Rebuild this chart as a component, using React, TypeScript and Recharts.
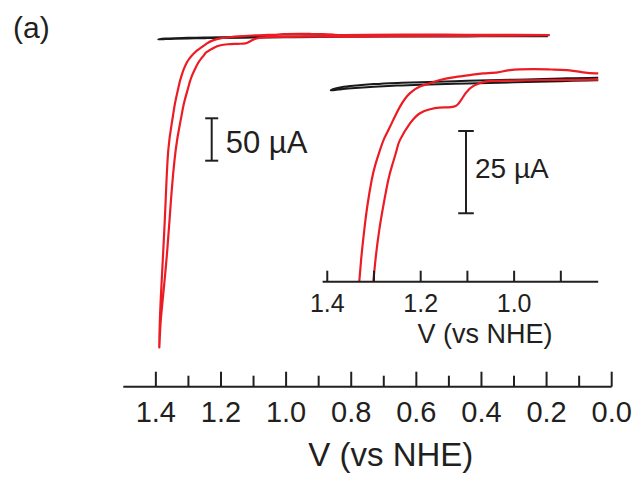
import React from "react";
import { LineChart, Line, XAxis, YAxis, ReferenceLine } from "recharts";

const FONT = '"Liberation Sans", Arial, Helvetica, sans-serif';
const INK = "#231f20";
const RED = "#ed1c24";

// Blank electrode scan: potential (V vs NHE) and current (µA, anodic positive)
const BLANK_V = [
  0.196, 0.4, 0.6, 0.823, 0.9, 1.0, 1.1, 1.2, 1.25, 1.3, 1.34, 1.37, 1.3925,
  1.37, 1.34, 1.3, 1.25, 1.2, 1.1, 1.0, 0.9, 0.823, 0.6, 0.4, 0.196,
];
const BLANK_I = [
  -0.9, -0.7, -0.5, -0.2, 0.05, 0.4, 0.75, 1.15, 1.4, 1.75, 2.1, 2.5, 2.8,
  1.9, 1.4, 0.95, 0.6, 0.35, -0.05, -0.4, -0.75, -1.0, -1.3, -1.5, -1.6,
];

// Catalyst scan: forward sweep then return sweep
const CAT_V = [
  0.19, 0.3, 0.45, 0.6, 0.72, 0.823, 0.94, 1.0, 1.04, 1.062, 1.076, 1.087, 1.1015,
  1.1158, 1.125, 1.14, 1.16, 1.18, 1.2015, 1.2229, 1.2443, 1.2514, 1.2608, 1.2694,
  1.2797, 1.2887, 1.2957, 1.3015, 1.3135, 1.3237, 1.3391, 1.3535, 1.3649, 1.379,
  1.386, 1.3894,
  1.3885, 1.3851, 1.3771, 1.3698, 1.3618, 1.3495, 1.3412, 1.3315, 1.3266, 1.3208,
  1.3139, 1.3049, 1.2972, 1.2872, 1.2775, 1.2657, 1.2443, 1.2229, 1.2015, 1.1801,
  1.1587, 1.1302, 1.0945, 1.066, 1.035, 1.009, 0.9595, 0.92, 0.8874, 0.8518,
  0.8231, 0.75, 0.6, 0.45, 0.3, 0.19,
];
const CAT_I = [
  -2.0, -1.6, -1.2, -0.9, -0.6, -0.4, -0.3, -0.15, -0.05, 0.2, 0.8, 1.5, 3.3,
  6.3, 7.6, 8.0, 8.1, 8.6, 9.8, 12.9, 17.9, 21.0, 25.5, 30.1,
  37.7, 45.3, 52.9, 61.0, 78.0, 97.9, 133.3, 192.0, 251.0, 310.0,
  340.0, 366.0,
  345.0, 310.0, 251.0, 192.0, 133.3, 97.9, 78.2, 61.0, 52.9, 45.3,
  37.7, 30.1, 25.5, 21.0, 17.3, 13.9, 7.8, 3.7, 1.7, 0.7,
  -0.3, -1.1, -1.8, -2.3, -2.6, -3.3, -3.6, -3.5, -3.3, -2.6,
  -2.3, -2.6, -2.7, -2.6, -2.5, -2.3,
];

const MAIN_TICKS = [1.4, 1.3, 1.2, 1.1, 1.0, 0.9, 0.8, 0.7, 0.6, 0.5, 0.4, 0.3, 0.2, 0.1, 0.0];
const MAIN_TICK_LABELS = ["1.4", "1.2", "1.0", "0.8", "0.6", "0.4", "0.2", "0.0"];
const INSET_TICKS = [1.4, 1.3, 1.2, 1.1, 1.0, 0.9];
const INSET_TICK_LABELS = ["1.4", "1.2", "1.0"];

const AXIS_TITLE = "V (vs NHE)";
const MAIN_BAR_UA = 50;
const INSET_BAR_UA = 25;

const blank = BLANK_V.map((v, k) => ({ v, i: BLANK_I[k] }));
const cat = CAT_V.map((v, k) => ({ v, i: CAT_I[k] }));

function makeTick(labels: string[], major: number, minor: number, gap: number, size: number) {
  return (props: any) => {
    const { x, y, payload } = props;
    const txt = Number(payload.value).toFixed(1);
    const labelled = labels.includes(txt);
    return (
      <g>
        <line x1={x} x2={x} y1={y} y2={y - (labelled ? major : minor)} stroke={INK} strokeWidth={2} />
        {labelled && (
          <text x={x} y={y + gap} textAnchor="middle" fontSize={size} fontFamily={FONT} fill={INK}>
            {txt}
          </text>
        )}
      </g>
    );
  };
}

const mainTick = makeTick(MAIN_TICK_LABELS, 15, 11, 35, 29);
const insetTick = makeTick(INSET_TICK_LABELS, 11, 11, 30, 25);

function axisTitle(dx: number, dy: number, size: number) {
  return (props: any) => {
    const vb = props.viewBox || { x: 0, y: 0 };
    return (
      <text x={vb.x + dx} y={vb.y + dy} textAnchor="middle" fontSize={size} fontFamily={FONT} fill={INK}>
        {AXIS_TITLE}
      </text>
    );
  };
}

function barLabel(text: string, dx: number, dy: number, size: number) {
  return (props: any) => {
    const vb = props.viewBox || { x: 0, y: 0, height: 0 };
    return (
      <text x={vb.x + dx} y={vb.y + (vb.height || 0) / 2 + dy} fontSize={size} fontFamily={FONT} fill={INK}>
        {text}
      </text>
    );
  };
}

function ScaleBar(v: number, top: number, span: number, halfW: number, dx: number, dy: number, size: number) {
  const bottom = top + span;
  return [
    <ReferenceLine
      key="bar"
      segment={[{ x: v, y: top }, { x: v, y: bottom }]}
      stroke={INK}
      strokeWidth={2}
      ifOverflow="visible"
      label={barLabel(`${span} µA`, dx, dy, size)}
    />,
    <ReferenceLine
      key="capTop"
      segment={[{ x: v + halfW, y: top }, { x: v - halfW, y: top }]}
      stroke={INK}
      strokeWidth={2}
      ifOverflow="visible"
    />,
    <ReferenceLine
      key="capBottom"
      segment={[{ x: v + halfW, y: bottom }, { x: v - halfW, y: bottom }]}
      stroke={INK}
      strokeWidth={2}
      ifOverflow="visible"
    />,
  ];
}

export default function App() {
  return (
    <div style={{ position: "absolute", left: 0, top: 0, width: 640, height: 477, background: "#fff" }}>
      <div style={{ position: "absolute", left: 0, top: 0 }}>
        <LineChart width={640} height={477} margin={{ top: 20, right: 28.3, bottom: 20.3, left: 123.3 }}>
          <XAxis
            type="number"
            dataKey="v"
            domain={[0, 1.5]}
            reversed
            allowDataOverflow
            ticks={MAIN_TICKS}
            interval={0}
            tick={mainTick}
            tickLine={false}
            tickSize={0}
            tickMargin={0}
            axisLine={{ stroke: INK, strokeWidth: 2 }}
            height={70}
            label={axisTitle(267.5, 79.3, 33)}
          />
          <YAxis type="number" dataKey="i" domain={[-20, 412.4]} reversed allowDataOverflow hide />
          <Line data={blank} dataKey="i" type="natural" stroke="#1a1a1a" strokeWidth={2} dot={false} isAnimationActive={false} />
          <Line data={cat} dataKey="i" type="natural" stroke={RED} strokeWidth={2.2} dot={false} isAnimationActive={false} />
          {ScaleBar(1.2285, 95.9, MAIN_BAR_UA, 0.02, 14, 14, 31)}
        </LineChart>
      </div>
      <div style={{ position: "absolute", left: 0, top: 0 }}>
        <LineChart width={640} height={477} margin={{ top: 60, right: 41.8, bottom: 115.3, left: 322.6 }}>
          <XAxis
            type="number"
            dataKey="v"
            domain={[0.82, 1.41]}
            reversed
            allowDataOverflow
            ticks={INSET_TICKS}
            interval={0}
            tick={insetTick}
            tickLine={false}
            tickSize={0}
            tickMargin={0}
            axisLine={{ stroke: INK, strokeWidth: 2 }}
            height={80}
            label={axisTitle(162.4, 61, 27)}
          />
          <YAxis type="number" dataKey="i" domain={[-6.38, 61]} reversed allowDataOverflow hide />
          <Line data={blank} dataKey="i" type="natural" stroke="#1a1a1a" strokeWidth={2} dot={false} isAnimationActive={false} />
          <Line data={cat} dataKey="i" type="natural" stroke={RED} strokeWidth={2.2} dot={false} isAnimationActive={false} />
          {ScaleBar(1.103, 15.2, INSET_BAR_UA, 0.0167, 9, 6, 28)}
        </LineChart>
      </div>
      <svg width={80} height={60} style={{ position: "absolute", left: 0, top: 0 }}>
        <text x={13} y={37.5} fontSize={30} fontFamily={FONT} fill={INK}>
          (a)
        </text>
      </svg>
    </div>
  );
}
